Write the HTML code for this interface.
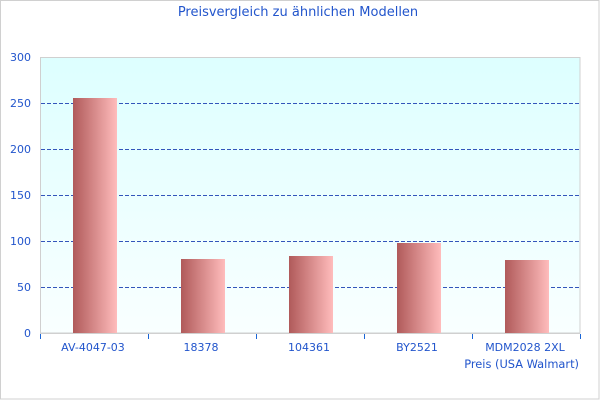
<!DOCTYPE html>
<html>
<head>
<meta charset="utf-8">
<style>
html,body{margin:0;padding:0;background:#fff;}
svg{display:block;}
text{font-family:"DejaVu Sans","Liberation Sans",sans-serif;fill:#2255cc;}
</style>
</head>
<body>
<svg width="600" height="400" viewBox="0 0 600 400" xmlns="http://www.w3.org/2000/svg">
<defs>
<linearGradient id="bg" x1="0" y1="0" x2="0" y2="1">
<stop offset="0" stop-color="#ddffff"/>
<stop offset="1" stop-color="#f9ffff"/>
</linearGradient>
<linearGradient id="bar" x1="0" y1="0" x2="1" y2="0">
<stop offset="0" stop-color="#b05a5a"/>
<stop offset="1" stop-color="#ffbcbc"/>
</linearGradient>
</defs>
<rect x="0.5" y="0.5" width="598.5" height="398.5" fill="#fff" stroke="#d0d0d0" stroke-width="1"/>
<text x="298" y="16" font-size="13" text-anchor="middle">Preisvergleich zu ähnlichen Modellen</text>
<rect x="40.5" y="57.5" width="539.5" height="275.5" fill="url(#bg)" stroke="#d0d0d0" stroke-width="1"/>
<g stroke="#3355bb" stroke-width="1" stroke-dasharray="4,2">
<line x1="41" y1="103.5" x2="580" y2="103.5"/>
<line x1="41" y1="149.5" x2="580" y2="149.5"/>
<line x1="41" y1="195.5" x2="580" y2="195.5"/>
<line x1="41" y1="241.5" x2="580" y2="241.5"/>
<line x1="41" y1="287.5" x2="580" y2="287.5"/>
</g>
<g fill="url(#bar)">
<rect x="73" y="98" width="44" height="235"/>
<rect x="181" y="259" width="44" height="74"/>
<rect x="289" y="256" width="44" height="77"/>
<rect x="397" y="243" width="44" height="90"/>
<rect x="505" y="260" width="44" height="73"/>
</g>
<line x1="40" y1="333.5" x2="580" y2="333.5" stroke="#d0d0d0" stroke-width="1"/>
<g stroke="#1a66d6" stroke-width="1">
<line x1="40.5" y1="334" x2="40.5" y2="339"/>
<line x1="148.5" y1="334" x2="148.5" y2="339"/>
<line x1="256.5" y1="334" x2="256.5" y2="339"/>
<line x1="364.5" y1="334" x2="364.5" y2="339"/>
<line x1="472.5" y1="334" x2="472.5" y2="339"/>
<line x1="580.5" y1="334" x2="580.5" y2="339"/>
</g>
<g font-size="11" text-anchor="end">
<text x="31" y="61">300</text>
<text x="31" y="107">250</text>
<text x="31" y="153">200</text>
<text x="31" y="199">150</text>
<text x="31" y="245">100</text>
<text x="31" y="291">50</text>
<text x="31" y="337">0</text>
</g>
<g font-size="11" text-anchor="middle">
<text x="93" y="351">AV-4047-03</text>
<text x="201" y="351">18378</text>
<text x="309" y="351">104361</text>
<text x="417" y="351">BY2521</text>
<text x="525" y="351">MDM2028 2XL</text>
</g>
<text x="579" y="368" font-size="11.4" text-anchor="end">Preis (USA Walmart)</text>
</svg>
</body>
</html>
